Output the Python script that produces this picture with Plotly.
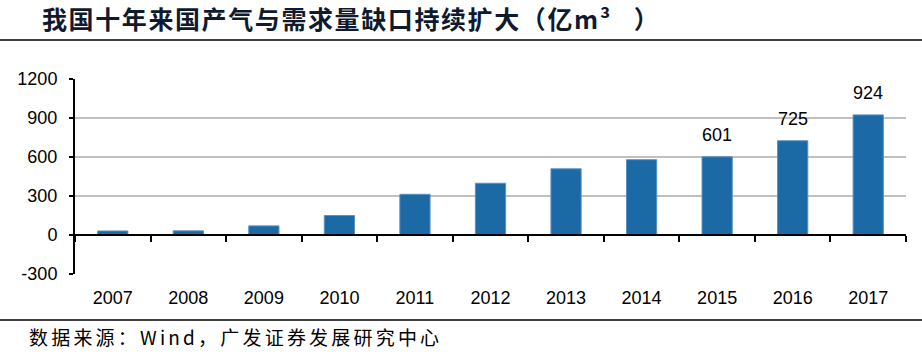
import plotly.graph_objects as go

years = ["2007", "2008", "2009", "2010", "2011", "2012", "2013", "2014", "2015", "2016", "2017"]
gap = [31, 32, 70, 150, 313, 398, 509, 579, 601, 725, 924]
labeled_years = ["2015", "2016", "2017"]
y_ticks = [-300, 0, 300, 600, 900, 1200]
y_tick_text = ["-300", "0", "300", "600", "900", "1200"]

title_text = "我国十年来国产气与需求量缺口持续扩大（亿m³   ）"
source_text = "数据来源：Wind，广发证券发展研究中心"

W, H = 922, 355
ml, mr, mt, mb = 75, 16, 79, 81
pw, ph = W - ml - mr, H - mt - mb

def px_x(x):
    return (x - ml) / pw

def px_y(y):
    return (H - mb - y) / ph

fig = go.Figure()
fig.add_trace(go.Bar(
    x=years, y=gap, width=0.4,
    marker=dict(color="#1c6aa5", line=dict(color="#5a8fc2", width=1)),
    hoverinfo="skip",
))
# invisible copy carrying the zero-level axis with boundary ticks
fig.add_trace(go.Bar(
    x=years, y=gap, width=0.4, xaxis="x2", opacity=0,
    hoverinfo="skip",
))

for i, (yr, v) in enumerate(zip(years, gap)):
    if yr in labeled_years:
        fig.add_annotation(x=i, y=v, text=str(v), showarrow=False,
                           yanchor="bottom", yshift=10,
                           font=dict(family="Liberation Sans, Arial", size=18, color="#000"))

zero_pos = (0 - y_ticks[0]) / (y_ticks[-1] - y_ticks[0])
xr = [-0.5, len(years) - 0.5]

fig.update_layout(
    width=W, height=H,
    margin=dict(l=ml, r=mr, t=mt, b=mb),
    paper_bgcolor="white", plot_bgcolor="white",
    showlegend=False,
    barmode="overlay",
    title=dict(text="<b>" + title_text + "</b>", x=42 / W, xanchor="left",
               y=1 - 20.5 / H, yanchor="middle",
               font=dict(family="Noto Sans CJK SC", size=25, color="#0f1a2e")),
    xaxis=dict(
        type="category", categoryorder="array", categoryarray=years, range=xr,
        showline=False, ticks="", ticklabelstandoff=11,
        tickfont=dict(family="Liberation Sans, Arial", size=18, color="#000"),
        showgrid=False, zeroline=False,
    ),
    xaxis2=dict(
        type="category", categoryorder="array", categoryarray=years, range=xr,
        overlaying="x", anchor="free", position=zero_pos,
        showline=True, linecolor="#000", linewidth=2,
        ticks="outside", tickson="boundaries", ticklen=6, tickwidth=2, tickcolor="#000",
        showticklabels=False, showgrid=False, zeroline=False,
    ),
    yaxis=dict(
        range=[y_ticks[0], y_ticks[-1]], tickvals=y_ticks, ticktext=y_tick_text,
        showline=True, linecolor="#000", linewidth=2,
        ticks="outside", ticklen=4, tickwidth=2, tickcolor="#000",
        ticklabelstandoff=8,
        tickfont=dict(family="Liberation Sans, Arial", size=18, color="#000"),
        showgrid=True, gridcolor="#c0c0c0", gridwidth=1.5,
        zeroline=False,
    ),
    shapes=[
        dict(type="line", xref="paper", yref="paper", x0=px_x(0), x1=px_x(W),
             y0=px_y(40), y1=px_y(40), line=dict(color="#000", width=1.5)),
        dict(type="line", xref="paper", yref="paper", x0=px_x(0), x1=px_x(W),
             y0=px_y(320), y1=px_y(320), line=dict(color="#000", width=1.5)),
    ],
)

fig.add_annotation(xref="paper", yref="paper", x=px_x(27), y=px_y(336),
                   xanchor="left", yanchor="middle", showarrow=False,
                   text=source_text,
                   font=dict(family="Noto Sans CJK SC", size=19, color="#000"))

post = """
document.body.style.margin = '0';
var gd = document.getElementById('{plot_id}');
function spread(t, sp) {
  var b0 = t.getBBox();
  t.style.letterSpacing = sp;
  var b1 = t.getBBox();
  var dx = b0.x - b1.x;
  if (dx !== 0) {
    var tr = t.getAttribute('transform') || '';
    t.setAttribute('transform', tr + ' translate(' + dx + ',0)');
  }
}
gd.querySelectorAll('text').forEach(function (t) {
  var s = t.textContent;
  if (s.indexOf('数据来源') === 0) { spread(t, '3.2px'); }
  else if (s.indexOf('我国十年') === 0) { spread(t, '1.6px'); }
});
"""

fig.write_html("out.html", post_script=post, config={"displayModeBar": False})
